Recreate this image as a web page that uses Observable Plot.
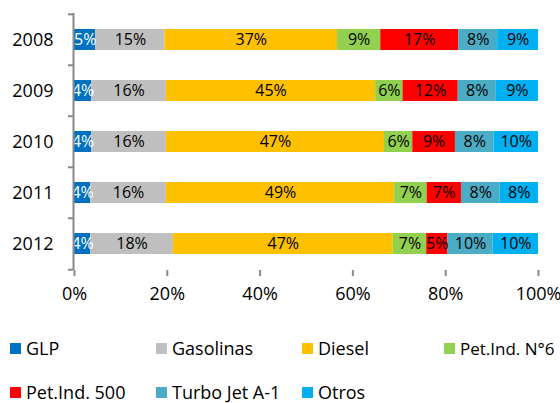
<!DOCTYPE html>
<html>
<head>
<meta charset="utf-8">
<script src="https://cdn.jsdelivr.net/npm/d3@7"></script>
<script src="https://cdn.jsdelivr.net/npm/@observablehq/plot@0.6"></script>
<style>
  html, body { margin: 0; padding: 0; background: #fff; overflow: hidden; width: 560px; height: 403px; }
  #wrap { position: relative; width: 560px; height: 403px; font-family: "Open Sans", sans-serif; }
  .row { position: absolute; left: 0; width: 560px; height: 24px; white-space: nowrap; }
  .item { position: absolute; top: 0; height: 24px; display: flex; align-items: center; font-size: 18px; color: #000; }
  .sw { width: 11px; height: 11px; margin-right: 5px; flex: none; }
</style>
</head>
<body>
<div id="wrap"></div>
<script>
const years = [2008, 2009, 2010, 2011, 2012];
const categories = ["GLP", "Gasolinas", "Diesel", "Pet.Ind. N°6", "Pet.Ind. 500", "Turbo Jet A-1", "Otros"];
const colors = ["#0070C0", "#BFBFBF", "#FFC000", "#92D050", "#FF0000", "#4BACC6", "#00B0F0"];
const GLP       = [4.6, 3.7, 3.7, 3.5, 3.5];
const Gasolinas = [14.9, 16.1, 16.1, 16.3, 17.8];
const Diesel    = [37.2, 45.1, 47.0, 49.2, 47.4];
const PetInd6   = [9.3, 5.9, 6.1, 7.0, 7.2];
const PetInd500 = [16.8, 11.9, 9.2, 7.4, 4.6];
const TurboJet  = [8.4, 8.2, 8.3, 8.3, 9.7];
const Otros     = [8.8, 9.1, 9.6, 8.3, 9.8];
const xTicks = [0, 20, 40, 60, 80, 100];

const series = [GLP, Gasolinas, Diesel, PetInd6, PetInd500, TurboJet, Otros];
const data = [];
years.forEach((yr, i) => categories.forEach((c, j) => data.push({year: yr, category: c, value: series[j][i]})));

const W = 560, H = 310, mT = 13, mB = 40, mL = 74, mR = 22;
const step = (H - mT - mB) / years.length;
const axisColor = "#898989";

const chart = Plot.plot({
  width: W, height: H,
  marginTop: mT, marginBottom: mB, marginLeft: mL, marginRight: mR,
  style: {fontFamily: "'Open Sans', sans-serif", background: "#fff"},
  x: {domain: [0, 100], ticks: xTicks, label: null},
  y: {domain: years, paddingInner: 0.59, paddingOuter: 0.295, label: null},
  color: {domain: categories, range: colors},
  marks: [
    Plot.barX(data, Plot.stackX({x: "value", y: "year", fill: "category", order: categories})),
    Plot.text(data, Plot.stackX({
      x: "value", y: "year", order: categories,
      text: d => Math.round(d.value) + "%",
      fill: d => d.category === "GLP" ? "#ffffff" : "#000000",
      fontSize: 16
    })),
    Plot.ruleX([0], {stroke: axisColor, strokeWidth: 2, dx: -1}),
    Plot.ruleY([0], {stroke: axisColor, strokeWidth: 2, frameAnchor: "bottom", x1: 0, x2: 100}),
    Plot.axisY(years, {tickSize: 5, tickFormat: () => "", stroke: axisColor, strokeWidth: 2, dy: -step / 2, dx: -1}),
    Plot.axisY([years[years.length - 1]], {tickSize: 5, tickFormat: () => "", stroke: axisColor, strokeWidth: 2, dy: step / 2, dx: -1}),
    Plot.axisY(years, {tickSize: 0, tickPadding: 21, tickFormat: d => String(d), fontSize: 18, fill: "#000", label: null}),
    Plot.axisX(xTicks, {tickSize: 6, tickPadding: 11, tickFormat: d => d + "%", fontSize: 18, stroke: axisColor, strokeWidth: 2, fill: "#000", label: null})
  ]
});

const wrap = document.getElementById("wrap");
wrap.appendChild(chart);

const rows = [[0, 1, 2, 3], [4, 5, 6]];
const rowCenters = [348, 392];
const lefts = [10, 156, 302, 444];
rows.forEach((r, ri) => {
  const row = document.createElement("div");
  row.className = "row";
  row.style.top = (rowCenters[ri] - 12) + "px";
  r.forEach((ci, k) => {
    const item = document.createElement("div");
    item.className = "item";
    item.style.left = lefts[k] + "px";
    if (ri === 0 && k === 3) item.style.fontSize = "17px";
    const sw = document.createElement("span");
    sw.className = "sw";
    sw.style.background = colors[ci];
    const tx = document.createElement("span");
    tx.textContent = categories[ci];
    item.appendChild(sw);
    item.appendChild(tx);
    row.appendChild(item);
  });
  wrap.appendChild(row);
});
</script>
</body>
</html>
